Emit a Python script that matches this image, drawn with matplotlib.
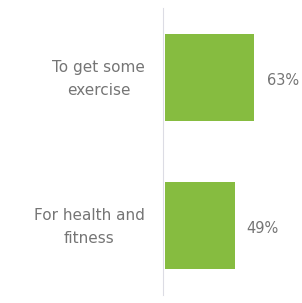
from matplotlib import pyplot as plt
from matplotlib import transforms

reasons = ["To get some\nexercise", "For health and\nfitness"]
shares = [63, 49]

fig = plt.figure(figsize=(3.02, 3.03), dpi=100)
ax = fig.add_axes([163/302, 8/303, 1 - 163/302, 287/303])

ypos = list(range(len(reasons)))
ax.barh(ypos, shares, height=0.585, color='#86bc40', left=0)
ax.set_xlim(-1.4, 96.5)
ax.set_ylim(1.47, -0.47)

for y, v in zip(ypos, shares):
    ax.text(v + 8.5, y + 0.02, f"{v}%", va='center', ha='left',
            fontsize=10.5, color='#757575', clip_on=False)

# category labels, lines centred, block right-aligned next to the axis
trans = transforms.blended_transform_factory(ax.transAxes, ax.transData)
for y, lab in zip(ypos, reasons):
    ax.text(-0.13, y + 0.01, lab, transform=trans, ha='right', va='center',
            multialignment='center', fontsize=11, color='#757575',
            linespacing=1.7, clip_on=False)

ax.set_yticks([])
ax.set_xticks([])
for s in ['top', 'right', 'bottom']:
    ax.spines[s].set_visible(False)
ax.spines['left'].set_color('#dcdce4')
ax.spines['left'].set_position(('data', -1.4))

fig.savefig('out.png', dpi=100)
